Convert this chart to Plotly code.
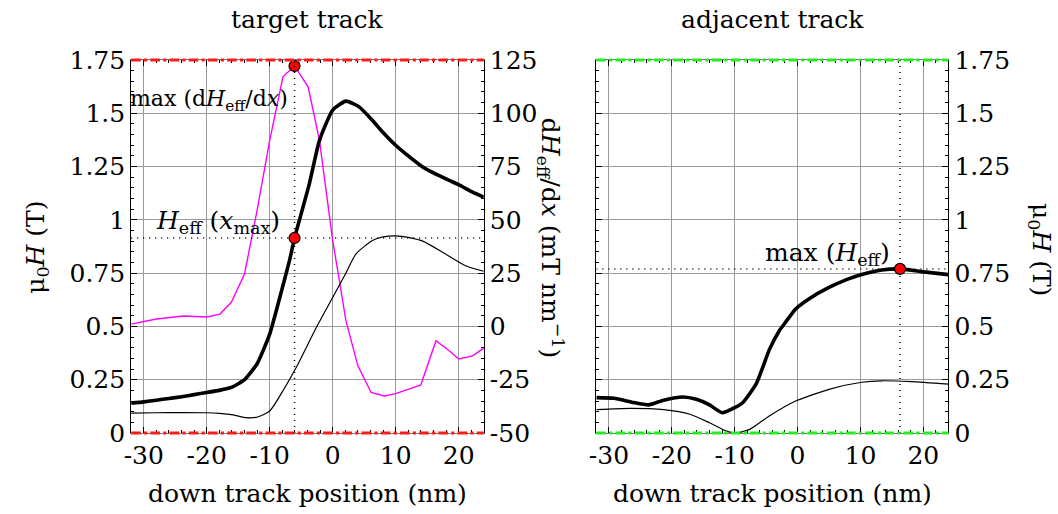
import plotly.graph_objects as go

# ---------------- data ----------------
# target track: effective field (thick)
tgt_heff_x = [-32, -30, -28, -26, -24, -22, -20, -18, -16, -14, -12, -10, -8.4, -6.85, -6.06, -5.3,
              -3.7, -2.1, 0, 2.1, 4.2, 6.3, 8, 10, 12, 14.3, 16, 18.5, 20, 22.2, 24]
tgt_heff_y = [0.14, 0.146, 0.154, 0.162, 0.17, 0.18, 0.19, 0.2, 0.215, 0.25, 0.325, 0.464, 0.636, 0.81,
              0.915, 0.997, 1.17, 1.373, 1.515, 1.557, 1.53, 1.467, 1.41, 1.35, 1.3, 1.248, 1.22, 1.185,
              1.165, 1.13, 1.107]
# target track: thin component
tgt_thin_x = [-32, -28, -24, -20, -18, -15.8, -13.7, -11.9, -10, -7.9, -5.8, -2.6, 0, 2, 3.7, 6.3, 8, 10,
              12, 14.3, 17.9, 21.1, 24]
tgt_thin_y = [0.093, 0.095, 0.096, 0.095, 0.092, 0.085, 0.072, 0.075, 0.103, 0.198, 0.307, 0.495, 0.636,
              0.745, 0.84, 0.903, 0.92, 0.925, 0.918, 0.9, 0.84, 0.785, 0.759]
# target track: gradient dHeff/dx (mT/nm)
grad_x = [-32, -28, -23.7, -20, -17.9, -16.1, -14, -12.9, -12.1, -10, -7.9, -6.06, -3.9, -2.1, 0, 1.06,
          2.1, 4, 6.1, 8.2, 10, 14, 16.4, 18.5, 20, 22.2, 24]
grad_y = [1.1, 3.5, 4.9, 4.4, 5.8, 11.3, 24.6, 40.3, 52.9, 87.3, 117.1, 122.2, 112.4, 87.3, 40.3, 21.5,
          2.7, -18.5, -31, -32.6, -31.5, -27.4, -6.7, -11.4, -15.3, -13.8, -10.2]
# adjacent track: effective field (thick)
adj_heff_x = [-32, -29.2, -26.1, -23.7, -21.3, -18.2, -16.1, -14, -12, -10, -8.7, -6.6, -5.55, -4.5,
              -2.9, -1.9, -0.3, 1.8, 5, 8, 10.2, 13.4, 16.3, 19.7, 24]
adj_heff_y = [0.166, 0.163, 0.143, 0.132, 0.154, 0.169, 0.158, 0.132, 0.095, 0.119, 0.143, 0.229, 0.307,
              0.39, 0.48, 0.52, 0.582, 0.629, 0.683, 0.722, 0.744, 0.765, 0.77, 0.757, 0.743]
# adjacent track: thin component
adj_thin_x = [-32, -26.6, -21.3, -17.1, -14, -11.3, -9.8, -7.6, -4.5, -0.3, 5, 10.2, 13.4, 18.1, 24]
adj_thin_y = [0.11, 0.116, 0.11, 0.088, 0.048, 0.009, 0.0, 0.017, 0.08, 0.15, 0.205, 0.238, 0.245, 0.241,
              0.229]

# highlighted points
xmax_tgt = -6.06
grad_peak = 122.2
heff_at_xmax = 0.915
xmax_adj = 16.3
heff_max_adj = 0.77

# axes ticks
x_ticks = [-30, -20, -10, 0, 10, 20]
x_ticktext = ["-30", "-20", "-10", "0", "10", "20"]
h_ticks = [0, 0.25, 0.5, 0.75, 1, 1.25, 1.5, 1.75]
h_ticktext = ["0", "0.25", "0.5", "0.75", "1", "1.25", "1.5", "1.75"]
g_ticks = [-50, -25, 0, 25, 50, 75, 100, 125]
g_ticktext = ["-50", "-25", "0", "25", "50", "75", "100", "125"]
x_range = [-32, 24]
h_range = [0, 1.75]
g_range = [-50, 125]

# ---------------- figure ----------------
FONT = "DejaVu Serif"
FS = 25
W, H = 1058, 514
T, B = 60, 81
dom_left = [125 / W, 480 / W]
dom_right = [593.3 / W, 947.7 / W]

fig = go.Figure()

THICK = 3.6
THIN = 1.2
DOT = "1px,5px"
MK = dict(color="red", size=11, line=dict(color="black", width=1.2))

# left subplot: magenta gradient on base axis y (right side)
fig.add_trace(go.Scatter(x=grad_x, y=grad_y, mode="lines", line=dict(color="#ff00ff", width=1.4),
                         xaxis="x", yaxis="y", showlegend=False))
fig.add_trace(go.Scatter(x=[xmax_tgt, xmax_tgt], y=h_range, mode="lines",
                         line=dict(color="black", width=1.5, dash=DOT), xaxis="x", yaxis="y2",
                         showlegend=False))
fig.add_trace(go.Scatter(x=x_range, y=[heff_at_xmax, heff_at_xmax], mode="lines",
                         line=dict(color="black", width=1.5, dash=DOT), xaxis="x", yaxis="y2",
                         showlegend=False))
fig.add_trace(go.Scatter(x=tgt_thin_x, y=tgt_thin_y, mode="lines",
                         line=dict(color="black", width=THIN, shape="spline", smoothing=0.6),
                         xaxis="x", yaxis="y2", showlegend=False))
fig.add_trace(go.Scatter(x=tgt_heff_x, y=tgt_heff_y, mode="lines",
                         line=dict(color="black", width=THICK, shape="spline", smoothing=0.5),
                         xaxis="x", yaxis="y2", showlegend=False))
fig.add_trace(go.Scatter(x=[xmax_tgt], y=[heff_at_xmax], mode="markers", marker=MK,
                         xaxis="x", yaxis="y2", showlegend=False, cliponaxis=False))
fig.add_trace(go.Scatter(x=[xmax_tgt], y=[grad_peak], mode="markers", marker=MK,
                         xaxis="x", yaxis="y", showlegend=False, cliponaxis=False))

# right subplot
fig.add_trace(go.Scatter(x=[xmax_adj, xmax_adj], y=h_range, mode="lines",
                         line=dict(color="black", width=1.5, dash=DOT), xaxis="x2", yaxis="y3",
                         showlegend=False))
fig.add_trace(go.Scatter(x=x_range, y=[heff_max_adj, heff_max_adj], mode="lines",
                         line=dict(color="black", width=1.5, dash=DOT), xaxis="x2", yaxis="y3",
                         showlegend=False))
fig.add_trace(go.Scatter(x=adj_thin_x, y=adj_thin_y, mode="lines",
                         line=dict(color="black", width=THIN, shape="spline", smoothing=0.6),
                         xaxis="x2", yaxis="y3", showlegend=False))
fig.add_trace(go.Scatter(x=adj_heff_x, y=adj_heff_y, mode="lines",
                         line=dict(color="black", width=THICK, shape="spline", smoothing=0.5),
                         xaxis="x2", yaxis="y3", showlegend=False))
fig.add_trace(go.Scatter(x=[xmax_adj], y=[heff_max_adj], mode="markers", marker=MK,
                         xaxis="x2", yaxis="y3", showlegend=False, cliponaxis=False))

GRID = "#9a9a9a"
tickfont = dict(family=FONT, size=FS, color="black")


def xaxis(domain, anchor):
    return dict(domain=domain, anchor=anchor, range=x_range, tickmode="array", tickvals=x_ticks,
                ticktext=x_ticktext, ticks="inside", ticklen=6, tickcolor="black", showline=True,
                linecolor="#777", linewidth=1, mirror="ticks", showgrid=True, gridcolor=GRID,
                gridwidth=1, zeroline=False, tickfont=tickfont,
                minor=dict(tickmode="linear", tick0=0, dtick=2, ticks="inside", ticklen=3,
                           tickcolor="black", showgrid=False))


fig.update_layout(
    width=W, height=H,
    margin=dict(l=0, r=0, t=T, b=B),
    paper_bgcolor="white", plot_bgcolor="white",
    font=dict(family=FONT, size=FS, color="black"),
    xaxis=xaxis(dom_left, "y"),
    xaxis2=xaxis(dom_right, "y3"),
    yaxis=dict(domain=[0, 1], anchor="x", side="right", range=g_range, tickmode="array",
               tickvals=g_ticks, ticktext=g_ticktext, ticks="inside", ticklen=6, tickcolor="black",
               showline=True, linecolor="black", linewidth=1, showgrid=True, gridcolor=GRID,
               gridwidth=1, zeroline=False, tickfont=tickfont,
               minor=dict(tickmode="linear", tick0=0, dtick=5, ticks="inside", ticklen=3,
                          tickcolor="black", showgrid=False)),
    yaxis2=dict(overlaying="y", anchor="x", side="left", range=h_range, tickmode="array",
                tickvals=h_ticks, ticktext=h_ticktext, ticks="inside", ticklen=6, tickcolor="black",
                showline=True, linecolor="black", linewidth=1, showgrid=False, zeroline=False,
                tickfont=tickfont,
                minor=dict(tickmode="linear", tick0=0, dtick=0.05, ticks="inside", ticklen=3,
                           tickcolor="black", showgrid=False)),
    yaxis3=dict(domain=[0, 1], anchor="x2", side="right", range=h_range, tickmode="array",
                tickvals=h_ticks, ticktext=h_ticktext, ticks="inside", ticklen=6, tickcolor="black",
                showline=True, linecolor="black", linewidth=1, mirror="ticks", showgrid=True,
                gridcolor=GRID, gridwidth=1, zeroline=False, tickfont=tickfont,
                minor=dict(tickmode="linear", tick0=0, dtick=0.05, ticks="inside", ticklen=3,
                           tickcolor="black", showgrid=False)),
)

# coloured dash-dot top/bottom borders
for xr, yr, col in [("x domain", "y domain", "#ff1a1a"), ("x2 domain", "y3 domain", "#22ee22")]:
    for yy in (0, 1):
        fig.add_shape(type="line", xref=xr, yref=yr, x0=0, x1=1, y0=yy, y1=yy,
                      line=dict(color=col, width=3.2, dash="dashdot"), layer="above")


def paper_y(py):
    return (H - B - py) / (H - T - B)


ann = []
ann.append(dict(text="target track", x=302.5 / W, y=paper_y(20), xref="paper", yref="paper",
                showarrow=False, xanchor="center", yanchor="middle"))
ann.append(dict(text="adjacent track", x=770.5 / W, y=paper_y(20), xref="paper", yref="paper",
                showarrow=False, xanchor="center", yanchor="middle"))
for cx in (302.5, 770.5):
    ann.append(dict(text="down track position (nm)", x=cx / W, y=paper_y(494), xref="paper",
                    yref="paper", showarrow=False, xanchor="center", yanchor="middle"))
ann.append(dict(text="μ<sub>0</sub><i>H</i> (T)", x=30 / W, y=paper_y(247), xref="paper",
                yref="paper", showarrow=False, textangle=-90, xanchor="center", yanchor="middle"))
ann.append(dict(text="d<i>H</i><sub>eff</sub>/d<i>x</i> (mT nm<sup>−1</sup>)", x=547 / W,
                y=paper_y(238), xref="paper", yref="paper", showarrow=False, textangle=90,
                xanchor="center", yanchor="middle"))
ann.append(dict(text="μ<sub>0</sub><i>H</i> (T)", x=1057 / W, y=paper_y(249), xref="paper",
                yref="paper", showarrow=False, textangle=90, xanchor="right", yanchor="middle",
                borderpad=0))
# in-plot labels
ann.append(dict(text="max (d<i>H</i><sub>eff</sub>/d<i>x</i>)", x=-6.9, y=1.56, xref="x", yref="y2",
                showarrow=False, xanchor="right", yanchor="middle", font=dict(size=22),
                borderpad=0))
ann.append(dict(text="<i>H</i><sub>eff</sub> (<i>x</i><sub>max</sub>)", x=-8.0, y=0.99, xref="x",
                yref="y2", showarrow=False, xanchor="right", yanchor="middle"))
ann.append(dict(text="max (<i>H</i><sub>eff</sub>)", x=15.0, y=0.84, xref="x2", yref="y3",
                showarrow=False, xanchor="right", yanchor="middle"))
fig.update_layout(annotations=ann)

fig.write_html("out.html")
